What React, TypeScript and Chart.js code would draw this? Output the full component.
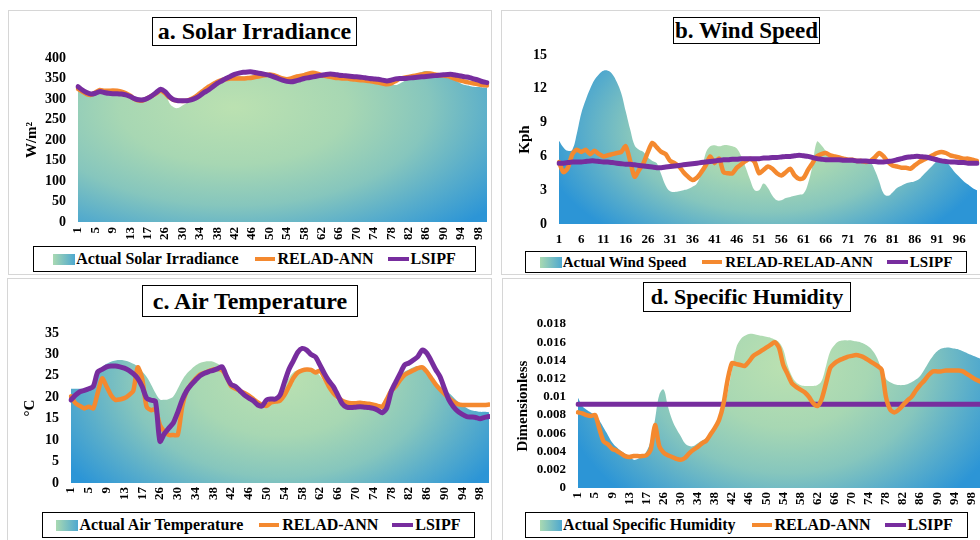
import React, { useEffect, useRef } from "react";
import { Chart, registerables } from "chart.js";

Chart.register(...registerables);

// ---------------- DATA ----------------
const DAYS = [
  1, 2, 3, 4, 5, 6, 7, 8, 9, 10, 11, 12, 13, 14, 15, 16, 17, 18, 19, 20,
  26, 27, 28, 29, 30, 31, 32, 33, 34, 35, 36, 37, 38, 39, 40, 41, 42, 43, 44, 45,
  46, 47, 48, 49, 50, 51, 52, 53, 54, 55, 56, 57, 58, 59, 60, 61, 62, 63, 64, 65,
  66, 67, 68, 69, 70, 71, 72, 73, 74, 75, 76, 77, 78, 79, 80, 81, 82, 83, 84, 85,
  86, 87, 88, 89, 90, 91, 92, 93, 94, 95, 96, 97, 98, 99, 100,
];

const SOLAR_ACTUAL = [
  328, 322, 316, 312, 314, 320, 322, 320, 318, 318, 316, 312, 308, 302, 298, 296, 300, 306, 314, 322,
  318, 290, 280, 278, 284, 290, 296, 302, 310, 320, 328, 336, 342, 346, 350, 352, 354, 356, 355, 356,
  358, 360, 362, 360, 358, 354, 350, 346, 344, 348, 352, 358, 364, 366, 364, 362, 360, 358, 356, 354,
  352, 350, 348, 346, 345, 344, 342, 340, 338, 340, 342, 340, 336, 334, 338, 344, 350, 356, 362, 366,
  368, 366, 362, 358, 356, 354, 350, 344, 338, 334, 332, 330, 329, 328, 328,
];
const SOLAR_RELAD = [
  325, 318, 312, 310, 316, 322, 320, 320, 321, 320, 318, 314, 308, 300, 296, 297, 302, 308, 314, 320,
  314, 304, 298, 296, 295, 296, 300, 306, 314, 322, 330, 336, 342, 346, 348, 350, 350, 350, 350, 351,
  352, 354, 356, 358, 360, 358, 354, 350, 348, 350, 354, 356, 358, 362, 364, 362, 358, 356, 354, 352,
  351, 350, 350, 348, 347, 346, 345, 344, 342, 340, 338, 336, 338, 344, 350, 352, 354, 356, 358, 360,
  362, 362, 360, 358, 357, 356, 352, 348, 345, 342, 340, 338, 336, 334, 333,
];
const SOLAR_LSIPF = [
  330, 322, 316, 312, 314, 318, 316, 314, 313, 313, 312, 310, 306, 301, 298, 298, 302, 308, 316, 324,
  318, 306, 298, 296, 296, 296, 298, 302, 308, 316, 322, 330, 338, 344, 350, 355, 360, 363, 365, 366,
  366, 364, 362, 360, 358, 354, 350, 346, 343, 342, 344, 347, 350, 352, 354, 356, 358, 360, 361, 360,
  358, 357, 356, 355, 354, 353, 352, 350, 349, 348, 346, 344, 346, 349, 350, 350, 351, 352, 353, 354,
  355, 356, 357, 358, 359, 360, 360, 358, 356, 354, 352, 349, 346, 342, 340,
];

const WIND_ACTUAL = [
  7.4, 6.8, 6.5, 6.6, 8.0, 9.8, 11.0, 12.0, 12.8, 13.3, 13.6, 13.6, 13.3, 12.6, 11.6, 10.0, 8.4, 7.0, 6.6, 6.4,
  5.9, 5.6, 5.4, 4.4, 3.4, 2.9, 2.85, 2.9, 3.0, 3.1, 3.3, 3.6, 4.5, 6.3, 6.9, 7.0, 6.9, 7.0, 7.0, 6.9,
  6.7, 6.0, 5.0, 3.9, 3.0, 3.0, 3.6, 3.2, 2.5, 2.1, 2.1, 2.3, 2.4, 2.5, 2.6, 2.7, 3.6, 5.2, 7.3, 7.0,
  6.5, 6.1, 5.9, 5.8, 5.8, 5.7, 5.8, 5.7, 5.6, 5.6, 5.5, 4.8, 3.8, 2.7, 2.5, 2.8, 3.2, 3.4, 3.6, 3.7,
  3.8, 4.0, 4.4, 4.8, 5.2, 5.6, 5.8, 5.6, 5.1, 4.6, 4.2, 3.8, 3.5, 3.2, 3.0,
];
const WIND_RELAD = [
  5.5, 4.6, 5.0, 6.2, 6.6, 6.4, 6.6, 6.2, 6.5, 6.2, 6.0, 6.1, 6.2, 6.3, 6.4, 6.9, 5.6, 4.2, 4.8, 5.4,
  6.4, 7.2, 6.8, 6.4, 6.2, 5.6, 5.4, 5.1, 4.6, 4.2, 3.9, 4.1, 4.6, 5.2, 6.0, 5.4, 5.8, 4.6, 4.5, 4.5,
  5.0, 5.3, 5.6, 5.8, 5.5, 4.5, 4.8, 5.1, 4.9, 4.5, 4.3, 4.6, 4.9, 4.3, 4.0, 4.1, 4.8, 5.4, 6.0, 6.2,
  6.3, 6.1, 6.0, 5.9, 5.8, 5.7, 5.7, 5.6, 5.6, 5.5, 5.6, 5.9, 6.3, 6.0, 5.5, 5.2, 5.1, 5.0, 5.0, 4.9,
  5.2, 5.5, 5.7, 5.9, 6.1, 6.3, 6.4, 6.3, 6.1, 6.0, 5.9, 5.8, 5.8, 5.7, 5.6,
];
const WIND_LSIPF = [
  5.4, 5.4, 5.45, 5.5, 5.5, 5.5, 5.55, 5.6, 5.6, 5.55, 5.5, 5.5, 5.45, 5.4, 5.35, 5.3, 5.3, 5.25, 5.2, 5.15,
  5.1, 5.05, 5.0, 5.0, 5.05, 5.1, 5.15, 5.2, 5.25, 5.3, 5.35, 5.4, 5.45, 5.5, 5.55, 5.6, 5.65, 5.7, 5.7, 5.75,
  5.75, 5.8, 5.8, 5.8, 5.8, 5.8, 5.85, 5.85, 5.9, 5.9, 5.95, 6.0, 6.0, 6.05, 6.1, 6.05, 6.0, 5.9, 5.8, 5.75,
  5.7, 5.7, 5.7, 5.7, 5.65, 5.65, 5.65, 5.6, 5.6, 5.6, 5.55, 5.55, 5.5, 5.5, 5.55, 5.6, 5.7, 5.8, 5.9, 5.95,
  6.0, 6.0, 5.95, 5.9, 5.8, 5.7, 5.6, 5.55, 5.5, 5.5, 5.45, 5.45, 5.4, 5.4, 5.4,
];

const TEMP_ACTUAL = [
  22.0, 22.0, 22.0, 22.0, 22.2, 23.5, 25.5, 27.0, 27.8, 28.3, 28.6, 28.7, 28.6, 28.3, 27.8, 27.2, 26.0, 24.8, 23.0, 21.0,
  19.5, 19.4, 19.6, 20.2, 22.0, 24.0, 25.5, 26.5, 27.4, 28.0, 28.3, 28.4, 28.3, 27.8, 27.0, 25.5, 23.5, 22.0, 21.0, 20.2,
  19.6, 19.0, 18.5, 18.2, 18.5, 19.2, 19.6, 20.5, 22.5, 24.5, 25.8, 26.3, 26.5, 26.6, 26.5, 26.0, 25.0, 23.5, 22.0, 20.5,
  19.3, 18.8, 18.5, 18.3, 18.2, 18.0, 17.8, 17.6, 17.4, 17.2, 17.2, 19.0, 21.5, 23.5, 25.0, 26.0, 26.5, 27.0, 27.3, 27.0,
  26.0, 24.5, 23.5, 22.5, 21.8, 21.0, 20.0, 19.0, 18.2, 17.5, 17.0, 16.8, 16.6, 16.6, 16.5,
];
const TEMP_RELAD = [
  20.2, 18.6, 18.0, 17.4, 17.8, 17.4, 21.0, 24.4, 22.5, 20.5, 19.4, 19.5, 19.8, 20.5, 21.5, 27.0, 24.4, 17.8, 17.0, 17.2,
  13.5, 12.0, 11.2, 11.2, 11.2, 17.8, 21.5, 23.0, 24.3, 25.3, 25.7, 26.1, 26.5, 26.6, 26.3, 24.8, 22.6, 22.0, 21.5, 21.0,
  20.4, 19.6, 18.8, 18.2, 18.0, 18.8, 19.0, 19.2, 20.5, 22.5, 24.5, 25.8, 26.3, 26.5, 26.4, 25.8, 26.2, 24.5, 22.5, 21.0,
  20.0, 19.2, 18.8, 18.6, 18.6, 18.7, 18.6, 18.5, 18.3, 18.0, 17.8, 19.5, 21.5, 22.5, 24.0, 25.2, 25.8, 26.3, 26.8, 27.0,
  26.0, 24.5, 23.0, 21.8, 20.8, 19.8, 19.0, 18.4, 18.2, 18.2, 18.2, 18.2, 18.2, 18.2, 18.3,
];
const TEMP_LSIPF = [
  19.4, 20.5, 21.3, 21.6, 22.0, 22.5, 25.9, 26.5, 27.1, 27.3, 27.3, 27.1, 26.8, 26.3, 25.5, 24.4, 22.5, 19.8, 19.3, 19.0,
  9.7, 11.5, 12.8, 14.0, 16.5, 19.4, 21.5, 22.9, 24.0, 25.0, 25.6, 26.0, 26.3, 26.7, 27.1, 24.8, 23.0, 22.5, 21.5, 20.5,
  19.8, 19.2, 18.2, 18.0, 19.4, 19.6, 19.6, 20.5, 23.5, 26.5, 28.5, 30.5, 31.4, 31.0, 30.0, 29.4, 27.5, 25.5, 23.8, 22.5,
  20.5, 18.5, 17.7, 17.6, 17.7, 17.8, 17.7, 17.6, 17.4, 17.0, 16.4, 17.5, 21.3, 23.5, 25.5, 27.5, 28.0, 28.7, 29.5, 31.0,
  30.3, 28.5, 26.5, 24.8, 22.0, 19.4, 17.8, 16.7, 16.0, 15.5, 15.4, 15.3, 15.0, 15.3, 15.5,
];

const HUM_ACTUAL = [
  0.0099, 0.009, 0.0086, 0.0083, 0.008, 0.0074, 0.0066, 0.0058, 0.005, 0.0045, 0.0041, 0.0038, 0.0035, 0.0031, 0.0032, 0.0035, 0.004, 0.0052, 0.0075, 0.0102,
  0.0108, 0.009, 0.0075, 0.0065, 0.0057, 0.0049, 0.0046, 0.0046, 0.0049, 0.0052, 0.0055, 0.006, 0.0066, 0.0075, 0.0086, 0.0105, 0.013, 0.0154, 0.0163, 0.0167,
  0.0169, 0.0169, 0.0168, 0.0167, 0.0166, 0.0165, 0.0163, 0.016, 0.0152, 0.0135, 0.0123, 0.0116, 0.0113, 0.0112, 0.0112, 0.0112, 0.0113, 0.0118, 0.0134, 0.015,
  0.0157, 0.0161, 0.0162, 0.0162, 0.0162, 0.0161, 0.016, 0.0158, 0.0155, 0.015, 0.0142, 0.013, 0.012, 0.0116, 0.0114, 0.0113, 0.0113, 0.0114, 0.0116, 0.0119,
  0.0123, 0.013, 0.0138, 0.0145, 0.015, 0.0153, 0.0154, 0.0154, 0.0153, 0.0152, 0.015, 0.0148, 0.0146, 0.0144, 0.0142,
];
const HUM_RELAD = [
  0.0083, 0.0082, 0.008, 0.0079, 0.008, 0.0065, 0.0051, 0.0048, 0.0043, 0.0041, 0.0038, 0.0035, 0.0034, 0.0035, 0.0035, 0.0035, 0.0036, 0.0042, 0.0069, 0.0046,
  0.0039, 0.0036, 0.0034, 0.0032, 0.0031, 0.0033, 0.0038, 0.0042, 0.0045, 0.0049, 0.0052, 0.0059, 0.0066, 0.0075, 0.0092, 0.0119, 0.0137, 0.0136, 0.0135, 0.0134,
  0.0139, 0.0145, 0.0148, 0.0151, 0.0154, 0.0157, 0.016, 0.0154, 0.0135, 0.0125, 0.0115, 0.0111, 0.0108, 0.0105, 0.01, 0.0093, 0.009, 0.0098, 0.0115, 0.0132,
  0.0137, 0.014, 0.0142, 0.0144, 0.0145, 0.0146, 0.0145, 0.0143, 0.014, 0.0137, 0.0134, 0.013, 0.01, 0.0086, 0.0083, 0.0086, 0.0091, 0.0096, 0.01, 0.0107,
  0.0113, 0.0118, 0.0124, 0.0128, 0.0128, 0.0128, 0.0129, 0.0129, 0.0129, 0.0129, 0.0128, 0.0125, 0.0122, 0.0119, 0.0117,
];
const HUM_LSIPF = [
  0.0092, 0.0092, 0.0092, 0.0092, 0.0092, 0.0092, 0.0092, 0.0092, 0.0092, 0.0092, 0.0092, 0.0092, 0.0092, 0.0092, 0.0092, 0.0092, 0.0092, 0.0092, 0.0092, 0.0092,
  0.0092, 0.0092, 0.0092, 0.0092, 0.0092, 0.0092, 0.0092, 0.0092, 0.0092, 0.0092, 0.0092, 0.0092, 0.0092, 0.0092, 0.0092, 0.0092, 0.0092, 0.0092, 0.0092, 0.0092,
  0.0092, 0.0092, 0.0092, 0.0092, 0.0092, 0.0092, 0.0092, 0.0092, 0.0092, 0.0092, 0.0092, 0.0092, 0.0092, 0.0092, 0.0092, 0.0092, 0.0092, 0.0092, 0.0092, 0.0092,
  0.0092, 0.0092, 0.0092, 0.0092, 0.0092, 0.0092, 0.0092, 0.0092, 0.0092, 0.0092, 0.0092, 0.0092, 0.0092, 0.0092, 0.0092, 0.0092, 0.0092, 0.0092, 0.0092, 0.0092,
  0.0092, 0.0092, 0.0092, 0.0092, 0.0092, 0.0092, 0.0092, 0.0092, 0.0092, 0.0092, 0.0092, 0.0092, 0.0092, 0.0092, 0.0092,
];

// ---------------- STYLE ----------------
const SERIF = "'Liberation Serif', 'Times New Roman', serif";
const ORANGE = "#F4892F";
const PURPLE = "#772D9E";
const STOPS: [number, string][] = [
  [0, "#bbe1b1"],
  [0.35, "#a7d7b3"],
  [0.6, "#86c6bd"],
  [0.8, "#58adcb"],
  [1, "#2c95d6"],
];

type Rect = { left: number; top: number; width: number; height: number };
type Grad = { fx: number; fy: number; rx: number; ry: number };

type PanelCfg = {
  frame: Rect;
  title: string;
  titleBox: Rect;
  titleSize: number;
  canvas: Rect;
  padTop: number;
  padRight: number;
  yWidth: number;
  xHeight: number;
  yTitle: string;
  yTitlePad: number;
  yMax: number;
  yStep: number;
  yFmt: (v: number) => string;
  yTickSize: number;
  xStep: number;
  xRot: number;
  xPad: number;
  actual: number[];
  relad: number[];
  lsipf: number[];
  actualLabel: string;
  reladLabel: string;
  legendBox: Rect;
  legendSize: number;
  grad: Grad;
  purpleTop: boolean;
};

function areaFill(g: Grad) {
  let cache: { key: string; pat: any } | null = null;
  return (ctx: any) => {
    const chart = ctx.chart;
    const a = chart.chartArea;
    if (!a) return "#7cc0c0";
    const key = `${chart.width}x${chart.height}:${a.left},${a.top},${a.right},${a.bottom}`;
    if (cache && cache.key === key) return cache.pat;
    const off = document.createElement("canvas");
    off.width = chart.width;
    off.height = chart.height;
    const c = off.getContext("2d")!;
    const w = a.right - a.left;
    const h = a.bottom - a.top;
    c.translate(a.left + g.fx * w, a.top + g.fy * h);
    c.scale(g.rx * w, g.ry * h);
    const grd = c.createRadialGradient(0, 0, 0, 0, 0, 1);
    STOPS.forEach(([o, col]) => grd.addColorStop(o, col));
    c.fillStyle = grd;
    c.fillRect(-6, -6, 12, 12);
    const pat = chart.ctx.createPattern(off, "no-repeat");
    cache = { key, pat };
    return pat;
  };
}

function Panel({ p }: { p: PanelCfg }) {
  const ref = useRef<HTMLCanvasElement | null>(null);
  useEffect(() => {
    if (!ref.current) return;
    const chart = new Chart(ref.current, {
      type: "line",
      data: {
        labels: DAYS.map(String),
        datasets: [
          {
            label: p.actualLabel,
            data: p.actual,
            fill: "origin",
            backgroundColor: areaFill(p.grad) as any,
            borderColor: "rgba(0,0,0,0)",
            borderWidth: 0,
            pointRadius: 0,
            tension: 0.4,
            order: 3,
          },
          {
            label: p.reladLabel,
            data: p.relad,
            fill: false,
            borderColor: ORANGE,
            borderWidth: 4.5,
            pointRadius: 0,
            tension: 0.25,
            borderJoinStyle: "round",
            borderCapStyle: "round",
            order: p.purpleTop ? 2 : 1,
          },
          {
            label: "LSIPF",
            data: p.lsipf,
            fill: false,
            borderColor: PURPLE,
            borderWidth: 5,
            pointRadius: 0,
            tension: 0.25,
            borderJoinStyle: "round",
            borderCapStyle: "round",
            order: p.purpleTop ? 1 : 2,
          },
        ],
      },
      options: {
        animation: false,
        responsive: false,
        events: [],
        layout: { padding: { top: p.padTop, right: p.padRight, left: 0, bottom: 0 } },
        plugins: { legend: { display: false }, tooltip: { enabled: false } },
        scales: {
          x: {
            type: "category",
            offset: false,
            grid: { display: false, drawTicks: false },
            border: { display: false },
            ticks: {
              autoSkip: false,
              maxRotation: p.xRot,
              minRotation: p.xRot,
              padding: p.xPad,
              color: "#000",
              font: { family: SERIF, weight: "bold", size: 13 },
              callback: (_v: any, i: number) => (i % p.xStep === 0 ? String(DAYS[i]) : ""),
            },
            afterFit: (s: any) => {
              s.height = p.xHeight;
              s.paddingLeft = 0;
              s.paddingRight = 0;
            },
          },
          y: {
            min: 0,
            max: p.yMax,
            grid: { display: false, drawTicks: false },
            border: { display: false },
            ticks: {
              autoSkip: false,
              stepSize: p.yStep,
              padding: 12,
              color: "#000",
              font: { family: SERIF, weight: "bold", size: p.yTickSize },
              callback: (v: any) => p.yFmt(Number(v)),
            },
            title: {
              display: true,
              text: p.yTitle,
              color: "#000",
              font: { family: SERIF, weight: "bold", size: 15 },
              padding: { top: p.yTitlePad, bottom: 0 },
            },
            afterFit: (s: any) => {
              s.width = p.yWidth;
              s.paddingTop = 0;
              s.paddingBottom = 0;
            },
          },
        },
      } as any,
    });
    return () => chart.destroy();
  }, [p]);

  const abs = (r: Rect): React.CSSProperties => ({
    position: "absolute",
    left: r.left,
    top: r.top,
    width: r.width,
    height: r.height,
  });

  return (
    <>
      <div style={{ ...abs(p.frame), border: "1px solid #d6d6d6", boxSizing: "border-box" }} />
      <div
        style={{
          ...abs(p.titleBox),
          border: "1.5px solid #000",
          boxSizing: "border-box",
          display: "flex",
          alignItems: "center",
          justifyContent: "center",
          fontFamily: SERIF,
          fontWeight: "bold",
          fontSize: p.titleSize,
          whiteSpace: "nowrap",
          background: "#fff",
        }}
      >
        {p.title}
      </div>
      <canvas ref={ref} width={p.canvas.width} height={p.canvas.height} style={abs(p.canvas)} />
      <div
        style={{
          ...abs(p.legendBox),
          border: "1.5px solid #000",
          boxSizing: "border-box",
          display: "flex",
          alignItems: "center",
          justifyContent: "center",
          fontFamily: SERIF,
          fontWeight: "bold",
          fontSize: p.legendSize,
          whiteSpace: "nowrap",
          background: "#fff",
        }}
      >
        <span
          style={{
            display: "inline-block",
            width: 22,
            height: 11,
            background: "linear-gradient(90deg, #a9d9b2, #4ea8cf)",
            marginRight: 1,
          }}
        />
        <span>{p.actualLabel}</span>
        <span style={{ display: "inline-block", width: 20, height: 4, background: ORANGE, marginLeft: 16, marginRight: 3 }} />
        <span>{p.reladLabel}</span>
        <span style={{ display: "inline-block", width: 21, height: 4, background: PURPLE, marginLeft: 14, marginRight: 2 }} />
        <span>LSIPF</span>
      </div>
    </>
  );
}

const fmtInt = (v: number) => String(Math.round(v));
const fmtHum = (v: number) => String(Number(v.toFixed(3)));

const PANELS: PanelCfg[] = [
  {
    frame: { left: 8, top: 10, width: 484, height: 265 },
    title: "a. Solar Irradiance",
    titleBox: { left: 152, top: 17, width: 205, height: 29 },
    titleSize: 24,
    canvas: { left: 8, top: 48, width: 482, height: 198 },
    padTop: 10,
    padRight: 3,
    yWidth: 70,
    xHeight: 24,
    yTitle: "W/m²",
    yTitlePad: 15,
    yMax: 400,
    yStep: 50,
    yFmt: fmtInt,
    yTickSize: 14,
    xStep: 4,
    xRot: 90,
    xPad: 5,
    actual: SOLAR_ACTUAL,
    relad: SOLAR_RELAD,
    lsipf: SOLAR_LSIPF,
    actualLabel: "Actual Solar Irradiance",
    reladLabel: "RELAD-ANN",
    legendBox: { left: 33, top: 246, width: 443, height: 26 },
    legendSize: 16,
    grad: { fx: 0.38, fy: 0.3, rx: 0.8, ry: 1.0 },
    purpleTop: true,
  },
  {
    frame: { left: 501, top: 10, width: 490, height: 265 },
    title: "b. Wind Speed",
    titleBox: { left: 673, top: 17, width: 147, height: 27 },
    titleSize: 23,
    canvas: { left: 502, top: 45, width: 478, height: 205 },
    padTop: 10,
    padRight: 3,
    yWidth: 57,
    xHeight: 26,
    yTitle: "Kph",
    yTitlePad: 14,
    yMax: 15,
    yStep: 3,
    yFmt: fmtInt,
    yTickSize: 14,
    xStep: 5,
    xRot: 0,
    xPad: 8,
    actual: WIND_ACTUAL,
    relad: WIND_RELAD,
    lsipf: WIND_LSIPF,
    actualLabel: "Actual Wind Speed",
    reladLabel: "RELAD-RELAD-ANN",
    legendBox: { left: 525, top: 251, width: 442, height: 22 },
    legendSize: 15,
    grad: { fx: 0.5, fy: 0.45, rx: 0.55, ry: 0.8 },
    purpleTop: true,
  },
  {
    frame: { left: 7, top: 278, width: 485, height: 270 },
    title: "c. Air Temperature",
    titleBox: { left: 142, top: 285, width: 216, height: 32 },
    titleSize: 24,
    canvas: { left: 7, top: 322, width: 483, height: 190 },
    padTop: 11,
    padRight: 1,
    yWidth: 64,
    xHeight: 29,
    yTitle: "°C",
    yTitlePad: 14,
    yMax: 35,
    yStep: 5,
    yFmt: fmtInt,
    yTickSize: 14,
    xStep: 4,
    xRot: 90,
    xPad: 4,
    actual: TEMP_ACTUAL,
    relad: TEMP_RELAD,
    lsipf: TEMP_LSIPF,
    actualLabel: "Actual Air Temperature",
    reladLabel: "RELAD-ANN",
    legendBox: { left: 42, top: 512, width: 433, height: 26 },
    legendSize: 16,
    grad: { fx: 0.5, fy: 0.3, rx: 0.6, ry: 1.1 },
    purpleTop: true,
  },
  {
    frame: { left: 502, top: 278, width: 490, height: 270 },
    title: "d. Specific Humidity",
    titleBox: { left: 643, top: 282, width: 208, height: 30 },
    titleSize: 22,
    canvas: { left: 502, top: 312, width: 478, height: 200 },
    padTop: 12,
    padRight: 0,
    yWidth: 76,
    xHeight: 24,
    yTitle: "Dimensionless",
    yTitlePad: 12,
    yMax: 0.018,
    yStep: 0.002,
    yFmt: fmtHum,
    yTickSize: 13,
    xStep: 4,
    xRot: 90,
    xPad: 4,
    actual: HUM_ACTUAL,
    relad: HUM_RELAD,
    lsipf: HUM_LSIPF,
    actualLabel: "Actual Specific Humidity",
    reladLabel: "RELAD-ANN",
    legendBox: { left: 525, top: 512, width: 443, height: 26 },
    legendSize: 16,
    grad: { fx: 0.52, fy: 0.25, rx: 0.58, ry: 1.1 },
    purpleTop: false,
  },
];

export default function App() {
  return (
    <div
      style={{
        position: "fixed",
        left: 0,
        top: 0,
        width: 980,
        height: 540,
        overflow: "hidden",
        background: "#fff",
      }}
    >
      {PANELS.map((p, i) => (
        <Panel key={i} p={p} />
      ))}
    </div>
  );
}
